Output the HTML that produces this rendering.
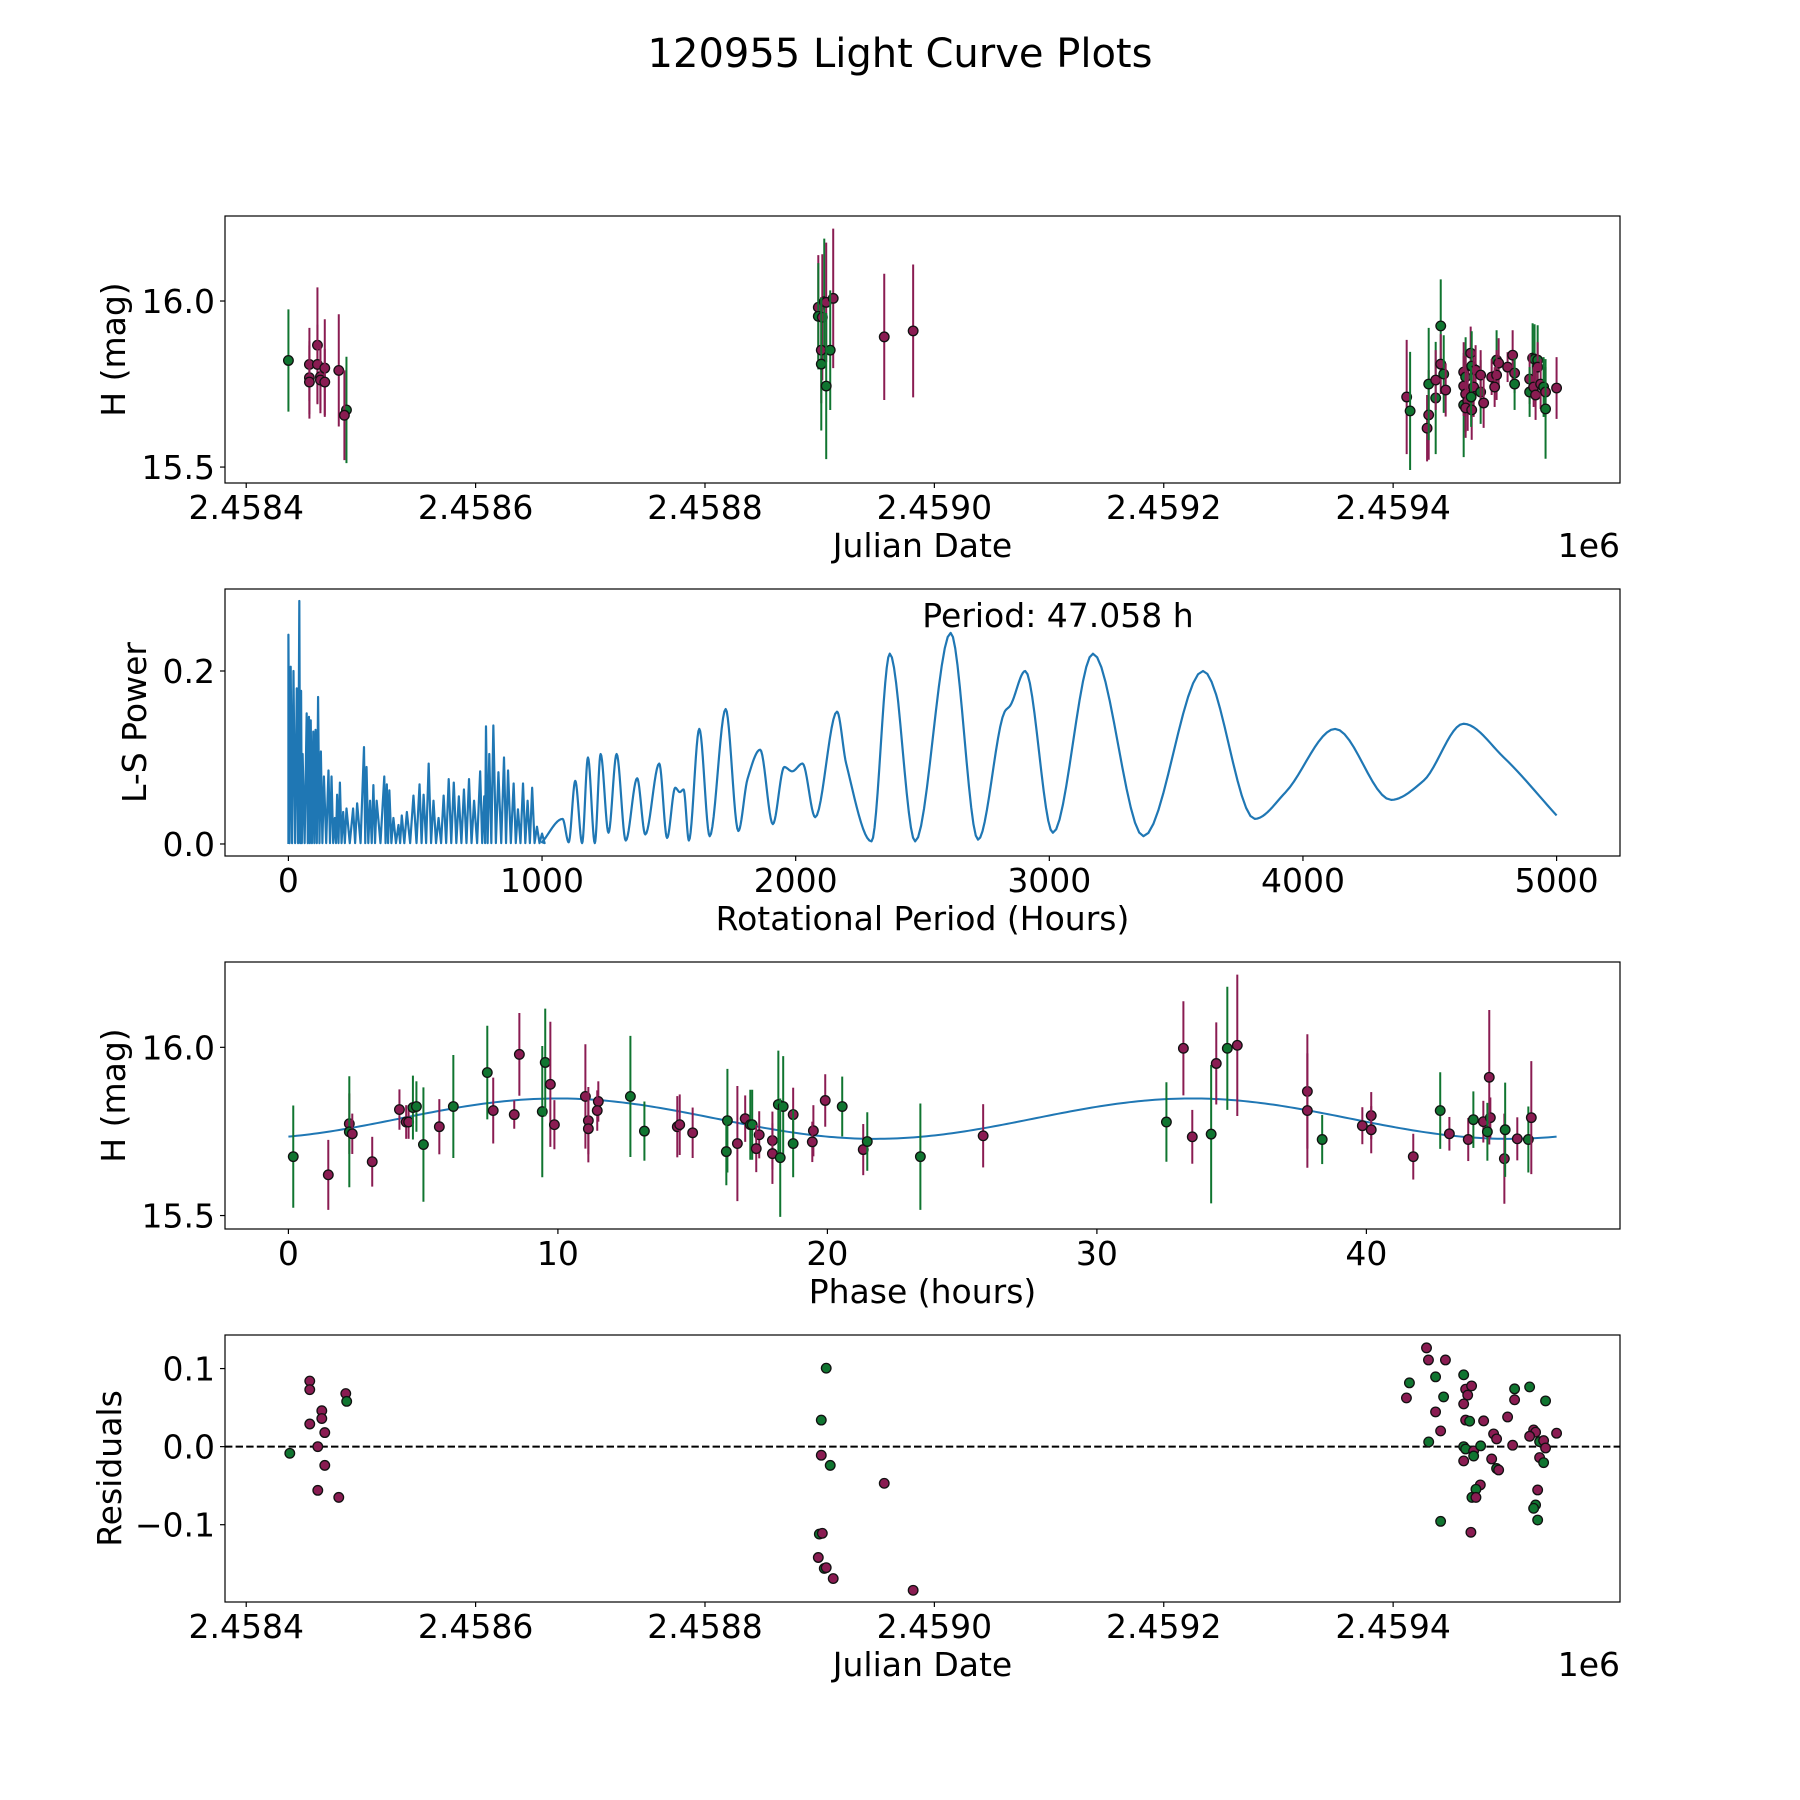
<!DOCTYPE html>
<html><head><meta charset="utf-8"><title>120955 Light Curve Plots</title>
<style>
html,body{margin:0;padding:0;background:#fff;}
svg{display:block;}
text{font-family:"DejaVu Sans","Liberation Sans",sans-serif;fill:#000;}
</style></head>
<body>
<svg id="fig" xmlns="http://www.w3.org/2000/svg" width="1800" height="1800" viewBox="0 0 1800 1800">
<rect x="0" y="0" width="1800" height="1800" fill="#fff"/>
<text x="900" y="67" font-size="40" text-anchor="middle">120955 Light Curve Plots</text>
<g id="p1"></g>
<g id="p2"></g>
<g id="p3"></g>
<g id="p4"></g>
</svg>
<script>
// ---------- DATA ----------
const jdBase = 2458400;
// Panel 1: light curve
const lcOffset = [36.8,55.1,55.1,55.1,62.1,62.1,64.7,64.7,68.5,68.5,80.7,87.4,85.6,
 498.8,498.8,502.3,504,505.7,511.8,501.4,509.2,501.4,505.7,556.3,581.5,
 1011.8,1014.8,1029.6,1031.0,1031.0,1037.1,1037.1,1041.5,1041.5,1044.1,1045.8,1061.5,1061.5,1061.5,1063.2,1063.2,1065.0,1063.2,1067.6,1068.5,1071.9,1070.2,1068.5,1068.0,1076.3,1076.3,1078.9,1090.2,1092.0,1085.9,1090.2,1088.5,1099.8,1104.2,1105.9,1105.9,1121.6,1123.3,1126.0,1126.0,1119.0,1119.0,1122.5,1124.2,1128.6,1131.2,1132.9,1132.9,1142.5];
const lcMag = [15.821,15.809,15.769,15.756,15.867,15.809,15.772,15.762,15.798,15.756,15.791,15.672,15.656,
 15.981,15.954,15.951,15.998,15.996,16.008,15.852,15.852,15.810,15.744,15.892,15.910,
 15.711,15.669,15.617,15.657,15.750,15.708,15.762,15.925,15.810,15.780,15.732,15.687,15.786,15.744,15.771,15.720,15.699,15.678,15.843,15.804,15.792,15.741,15.672,15.711,15.726,15.777,15.693,15.822,15.813,15.771,15.777,15.741,15.801,15.837,15.783,15.750,15.828,15.825,15.822,15.801,15.765,15.726,15.741,15.717,15.750,15.741,15.726,15.675,15.738];
const lcErr = [.154,.11,.11,.11,.174,.12,.1,.1,.147,.1,.169,.16,.135,
 .157,.16,.19,.19,.18,.21,.16,.18,.2,.22,.19,.2,
 .172,.178,.10,.135,.169,.169,.09,.14,.09,.117,.08,.157,.09,.09,.12,.115,.09,.09,.08,.105,.075,.09,.09,.09,.096,.075,.075,.09,.075,.054,.075,.06,.045,.075,.06,.078,.105,.105,.105,.075,.075,.075,.06,.075,.075,.09,.075,.15,.093];
const lcBand = ['g','m','m','m','m','m','m','m','m','m','m','g','m',
 'm','g','m','g','m','m','m','g','g','g','m','m',
 'm','g','m','m','g','g','m','g','m','g','m','g','m','m','g','m','m','m','m','g','m','m','m','g','g','m','m','g','m','m','m','m','m','m','m','g','g','g','g','m','m','g','m','m','m','g','m','g','m'];

// Panel 2: periodogram (read values)
const noisyPeriod = [0,9,20,33,43,50,56,72,81,88,98,107,117,128,140,158,170,183,192,203,216,229,255,271,298,308,322,335,348,378,388,398,414,434,447,467,493,517,533,553,572,592,612,632,652,672,692,712,732,756,772,779,792,808,828,850,866,888,905,925,943,961,980,1000];
const noisyPower = [.242,.205,.2,.18,.281,.177,.104,.151,.147,.143,.13,.132,.17,.107,.078,.085,.078,.03,.057,.071,.037,.041,.041,.047,.112,.089,.05,.068,.05,.078,.069,.062,.03,.022,.033,.037,.056,.069,.057,.093,.05,.03,.056,.075,.071,.055,.063,.075,.05,.084,.055,.136,.104,.137,.083,.1,.085,.07,.04,.07,.05,.065,.02,.012];
const smoothPeriod = [1000,1081,1105,1131,1158,1181,1208,1231,1262,1294,1330,1375,1407,1462,1493,1525,1543,1558,1579,1620,1661,1724,1774,1810,1860,1910,1955,1986,2027,2077,2163,2199,2299,2371,2471,2611,2719,2824,2846,2905,3014,3172,3371,3606,3810,3932,4127,4348,4475,4633,4792,5000];
const smoothPower = [0.002,.029,.002,.073,.001,.1,.001,.104,.013,.104,.004,.076,.011,.093,.007,.065,.06,.063,.004,.133,.009,.156,.015,.075,.109,.023,.089,.084,.093,.031,.153,.093,.003,.22,.003,.244,.005,.153,.16,.2,.013,.22,.009,.2,.029,.06,.133,.051,.073,.139,.1,.033];
const periodLabel = "Period: 47.058 h";

// Panel 3: phase folded
const bestPeriod = 47.058;
const modelParams = [15.788, 0.06, 10.0]; // mean mag, amplitude, peak phase (hours)
const phase = [0.18,1.48,2.26,2.26,2.37,3.11,4.12,4.37,4.46,4.62,4.75,5.01,5.6,6.12,7.38,7.6,8.38,8.57,9.42,9.53,9.72,9.87,11.02,11.13,11.13,11.5,11.46,12.69,13.21,14.43,14.52,15.0,
 16.29,16.25,16.66,16.95,17.14,17.21,17.47,17.36,17.96,17.96,18.18,18.36,18.25,18.73,18.73,19.48,19.44,19.92,20.55,21.33,21.48,23.45,25.78,
 32.58,33.21,33.54,34.24,34.43,34.84,35.21,37.81,37.81,38.36,39.85,40.18,40.18,41.74,42.74,43.08,43.78,43.97,44.34,44.6,44.56,44.49,45.12,45.15,45.6,46.01,46.12];
const phMag = [15.675,15.621,15.773,15.749,15.743,15.66,15.815,15.778,15.778,15.821,15.824,15.711,15.764,15.824,15.925,15.812,15.8,15.979,15.809,15.955,15.89,15.77,15.854,15.782,15.758,15.839,15.812,15.854,15.751,15.764,15.77,15.746,
 15.782,15.69,15.714,15.788,15.77,15.77,15.74,15.699,15.723,15.684,15.83,15.824,15.672,15.8,15.714,15.752,15.719,15.842,15.824,15.696,15.72,15.675,15.737,
 15.778,15.997,15.734,15.742,15.952,15.997,16.006,15.869,15.812,15.726,15.767,15.797,15.755,15.675,15.812,15.743,15.726,15.785,15.779,15.791,15.911,15.749,15.669,15.755,15.728,15.726,15.791];
const phErr = [.152,.104,.09,.165,.06,.074,.06,.05,.05,.095,.075,.17,.082,.153,.139,.098,.042,.123,.195,.16,.186,.073,.155,.1,.1,.06,.06,.18,.088,.091,.09,.075,
 .154,.1,.171,.069,.104,.104,.07,.07,.086,.09,.16,.15,.176,.08,.1,.076,.06,.078,.089,.076,.087,.158,.094,
 .118,.14,.08,.206,.122,.183,.21,.17,.17,.073,.055,.07,.07,.068,.114,.05,.064,.084,.062,.06,.2,.086,.134,.14,.064,.098,.168];
const phBand = ['g','m','m','g','m','m','m','m','m','g','g','g','m','g','g','m','m','m','g','g','m','m','m','m','m','m','m','g','g','m','m','m',
 'g','g','m','m','g','g','m','m','m','m','g','g','g','m','g','m','m','m','g','m','g','g','m',
 'g','m','m','g','m','g','m','m','m','g','m','m','m','m','g','m','m','g','m','m','m','g','m','g','m','g','m'];

// Panel 4: residuals
const resOffset = [38,55.4,55.4,55.4,62.4,62.4,65.9,65.9,68.5,68.5,80.7,86.8,87.6,
 505.7,501.4,501.4,509.2,556.3,499.7,502.3,498.8,504,505.7,511.8,581.5,
 1029.1,1030.8,1045.6,1014.2,1011.6,1037.0,1044.0,1037.0,1041.4,1031.0,1061.5,1063.2,1068.4,1065.0,1061.5,1063.2,1066.7,1078.9,1061.5,1063.2,1070.2,1070.2,1076.3,1061.5,1085.9,1087.6,1090.2,1090.2,1092.0,1076.0,1072.2,1068.7,1072.2,1041.4,1067.8,1099.8,1105.9,1105.9,1104.2,1119.0,1132.9,1122.5,1124.2,1119.0,1127.7,1131.2,1132.9,1142.5,1127.7,1131.2,1126.0,1124.2,1122.5,1126.0];
const resVal = [-0.0085,0.084,0.073,0.029,0.0,-0.056,0.046,0.036,0.018,-0.024,-0.065,0.068,0.058,
 0.1005,0.034,-0.011,-0.024,-0.047,-0.112,-0.111,-0.142,-0.156,-0.155,-0.169,-0.184,
 0.1265,0.111,0.111,0.0817,0.0624,0.0894,0.0637,0.0445,0.0201,0.006,0.092,0.0736,0.0778,0.066,0.0547,0.034,0.0326,0.033,0.0,-0.003,-0.0055,-0.012,0.001,-0.0183,-0.0158,0.0163,0.0099,-0.028,-0.0299,-0.049,-0.0546,-0.065,-0.065,-0.0957,-0.1097,0.038,0.074,0.06,0.0018,0.0765,0.0586,0.0214,0.0185,0.0133,0.0064,0.0077,-0.0017,0.0172,-0.014,-0.0205,-0.0555,-0.0747,-0.079,-0.094];
const resBand = ['g','m','m','m','m','m','m','m','m','m','m','m','g',
 'g','g','m','g','m','g','m','m','g','m','m','m',
 'm','m','m','g','m','g','g','m','m','g','g','m','m','m','m','m','g','m','g','g','m','g','g','m','m','m','m','g','m','m','g','g','m','g','m','m','g','m','m','g','g','m','m','m','g','m','m','m','m','g','m','g','g','g'];

// Tick labels
const jdTicks = [2458400,2458600,2458800,2459000,2459200,2459400];
const jdTickLabels = ['2.4584','2.4586','2.4588','2.4590','2.4592','2.4594'];
const magTicks = [15.5,16.0];
const magTickLabels = ['15.5','16.0'];
const perTicks = [0,1000,2000,3000,4000,5000];
const pwrTicks = [0.0,0.2];
const pwrTickLabels = ['0.0','0.2'];
const phTicks = [0,10,20,30,40];
const resTicks = [-0.1,0.0,0.1];
const resTickLabels = ['\u22120.1','0.0','0.1'];

// ---------- DRAWING ----------
const NS = 'http://www.w3.org/2000/svg';
const COL = {m:'#8a1c52', g:'#107530'};
const FS = 33;
function mk(tag, attrs, parent){
  const e = document.createElementNS(NS, tag);
  for (const k in attrs) e.setAttribute(k, attrs[k]);
  parent.appendChild(e);
  return e;
}
function lin(d0,d1,r0,r1){ return v => r0 + (v-d0)/(d1-d0)*(r1-r0); }
const L=225, R=1620;

function axesFrame(g, top, bot, xs, xt, xtl, ys, yt, ytl, xlabel, ylabel, ylabelX, offsetTxt){
  const fr = mk('rect',{x:L,y:top,width:R-L,height:bot-top,fill:'none',stroke:'#000','stroke-width':1.2},g);
  
  
  xt.forEach((v,i)=>{
    const x = xs(v);
    const t = mk('line',{x1:x,x2:x,y1:bot,y2:bot+5,stroke:'#000','stroke-width':1.2},g);
    
    
    const lb = mk('text',{x:x,y:bot+36,'font-size':FS,'text-anchor':'middle'},g);
    lb.textContent = xtl[i];
    
    
  });
  yt.forEach((v,i)=>{
    const y = ys(v);
    const t = mk('line',{x1:L-5,x2:L,y1:y,y2:y,stroke:'#000','stroke-width':1.2},g);
    
    
    const lb = mk('text',{x:L-10,y:y+12,'font-size':FS,'text-anchor':'end'},g);
    lb.textContent = ytl[i];
    
    
  });
  const xl = mk('text',{x:(L+R)/2,y:bot+74,'font-size':FS,'text-anchor':'middle'},g);
  xl.textContent = xlabel;
  
  
  const yl = mk('text',{x:ylabelX,y:(top+bot)/2,'font-size':FS,'text-anchor':'middle',transform:`rotate(-90 ${ylabelX} ${(top+bot)/2})`},g);
  yl.textContent = ylabel;
  
  
  if (offsetTxt){
    const o = mk('text',{x:R,y:bot+74,'font-size':FS,'text-anchor':'end'},g);
    o.textContent = offsetTxt;
    
    
  }
}
function errPoints(g, xs, ys, xv, yv, ev, bv){
  xv.forEach((xx,i)=>{
    const x = xs(xx), c = COL[bv[i]];
    const eb = mk('line',{x1:x,x2:x,y1:ys(yv[i]-ev[i]),y2:ys(yv[i]+ev[i]),stroke:c,'stroke-width':2},g);
    
    
    const p = mk('circle',{cx:x,cy:ys(yv[i]),r:4.8,fill:c,stroke:'#111','stroke-width':1.3},g);
    
    
  });
}

// Panel 1
(function(){
  const g = document.getElementById('p1');
  const xs = lin(2458381.5,2459597.8,L,R), ys = lin(15.452,16.256,483,216);
  errPoints(g, xs, ys, lcOffset.map(d=>d+jdBase), lcMag, lcErr, lcBand);
  axesFrame(g,216,483,xs,jdTicks,jdTickLabels,ys,magTicks,magTickLabels,'Julian Date','H (mag)',125,'1e6');
})();

// Panel 2
(function(){
  const g = document.getElementById('p2');
  const xs = lin(-250,5250,L,R), ys = lin(-0.0139,0.2948,856,589);
  let d = `M${xs(noisyPeriod[0])},${ys(0)}`;
  for (let i=0;i<noisyPeriod.length;i++){
    d += ` L${xs(noisyPeriod[i]).toFixed(2)},${ys(noisyPower[i]).toFixed(2)}`;
    const nx = i<noisyPeriod.length-1 ? (noisyPeriod[i]+noisyPeriod[i+1])/2 : noisyPeriod[i]+10;
    d += ` L${xs(nx).toFixed(2)},${ys(0.001).toFixed(2)}`;
  }
  const X=smoothPeriod, Y=smoothPower, n=X.length;
  const sl=[], tg=[];
  for(let i=0;i<n-1;i++) sl.push((Y[i+1]-Y[i])/(X[i+1]-X[i]));
  for(let i=0;i<n;i++){
    if(i===0) tg.push(sl[0]); else if(i===n-1) tg.push(sl[n-2]);
    else if(sl[i-1]*sl[i]<=0) tg.push(0);
    else tg.push(2/(1/sl[i-1]+1/sl[i]));
  }
  for(let i=0;i<n-1;i++){
    const h=X[i+1]-X[i];
    for(let k=0;k<=12;k++){
      const t=k/12, t2=t*t, t3=t2*t;
      const y=(2*t3-3*t2+1)*Y[i]+(t3-2*t2+t)*h*tg[i]+(-2*t3+3*t2)*Y[i+1]+(t3-t2)*h*tg[i+1];
      d += ` L${xs(X[i]+t*h).toFixed(2)},${ys(y).toFixed(2)}`;
    }
  }
  const line = mk('path',{d:d,fill:'none',stroke:'#1f77b4','stroke-width':2.2,'stroke-linejoin':'round'},g);
  
  
  const pl = mk('text',{x:1058,y:627,'font-size':FS,'text-anchor':'middle'},g);
  pl.textContent = periodLabel;
  
  
  axesFrame(g,589,856,xs,perTicks,perTicks.map(String),ys,pwrTicks,pwrTickLabels,'Rotational Period (Hours)','L-S Power',146,null);
})();

// Panel 3
(function(){
  const g = document.getElementById('p3');
  const xs = lin(-2.353,49.411,L,R), ys = lin(15.46,16.2536,1229,962);
  let d='';
  for(let k=0;k<=300;k++){
    const p = bestPeriod*k/300;
    const m = modelParams[0] + modelParams[1]*Math.cos(4*Math.PI*(p-modelParams[2])/bestPeriod);
    d += (k?' L':'M') + xs(p).toFixed(2)+','+ys(m).toFixed(2);
  }
  const ml = mk('path',{d:d,fill:'none',stroke:'#1f77b4','stroke-width':2},g);
  
  
  errPoints(g, xs, ys, phase, phMag, phErr, phBand);
  axesFrame(g,962,1229,xs,phTicks,phTicks.map(String),ys,magTicks,magTickLabels,'Phase (hours)','H (mag)',125,null);
})();

// Panel 4
(function(){
  const g = document.getElementById('p4');
  const xs = lin(2458381.5,2459597.8,L,R), ys = lin(-0.199,0.143,1602,1335);
  const z = mk('line',{x1:L,x2:R,y1:ys(0),y2:ys(0),stroke:'#000','stroke-width':2,'stroke-dasharray':'7.4,3.2'},g);
  
  
  resOffset.forEach((o,i)=>{
    const p = mk('circle',{cx:xs(o+jdBase),cy:ys(resVal[i]),r:4.8,fill:COL[resBand[i]],stroke:'#111','stroke-width':1.3},g);
    
    
  });
  axesFrame(g,1335,1602,xs,jdTicks,jdTickLabels,ys,resTicks,resTickLabels,'Julian Date','Residuals',121,'1e6');
})();
</script>
</body></html>
